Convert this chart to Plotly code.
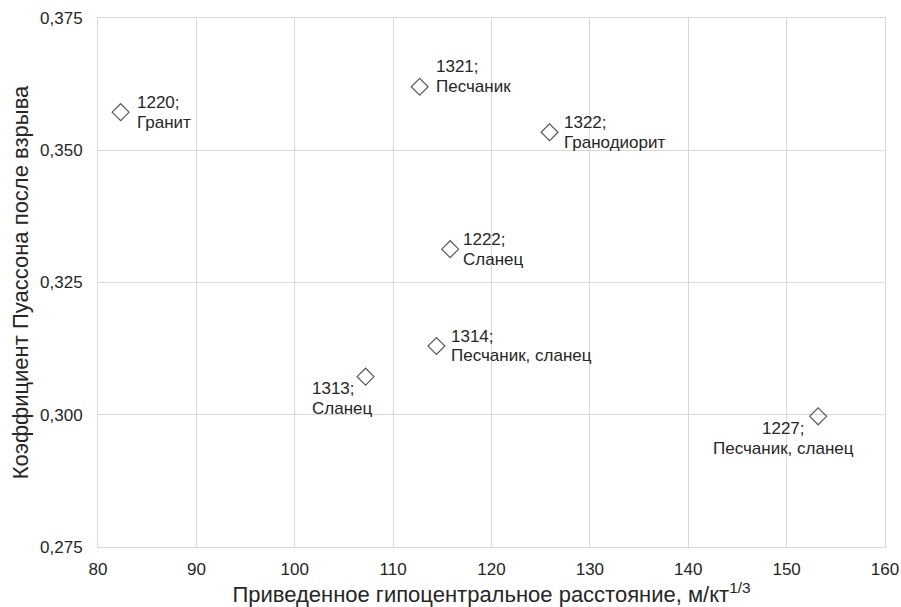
import plotly.graph_objects as go

# Data
ids = ["1220", "1321", "1322", "1222", "1314", "1313", "1227"]
rocks = ["Гранит", "Песчаник", "Гранодиорит", "Сланец", "Песчаник, сланец", "Сланец", "Песчаник, сланец"]
x_dist = [82.3, 112.7, 125.9, 115.8, 114.4, 107.2, 153.2]
y_poisson = [0.3572, 0.3620, 0.3534, 0.3313, 0.3130, 0.3072, 0.2997]
x_ticks = [80, 90, 100, 110, 120, 130, 140, 150, 160]
y_ticks = [0.275, 0.300, 0.325, 0.350, 0.375]

# label placement (style only): anchor, dx of text edge/center, dy of first line (px, down positive)
label_style = [
    ("left", 16.5, -9.5),
    ("left", 16.5, -20),
    ("left", 14.5, -9.5),
    ("left", 13.5, -9.5),
    ("left", 15, -9.5),
    ("left", -53, 12),
    ("center", -35, 12.5),
]
LINE_PITCH = 19.5

FONT = "Liberation Sans, Arial, sans-serif"
TXT = "#262626"

fig = go.Figure()
fig.add_trace(go.Scatter(
    x=x_dist, y=y_poisson, mode="markers",
    marker=dict(symbol="diamond-open", size=13, color="#5a5a5a", line=dict(width=1.2)),
    showlegend=False, hoverinfo="skip",
))

font_lbl = dict(family=FONT, size=17, color=TXT)
for i, (xv, yv) in enumerate(zip(x_dist, y_poisson)):
    anchor, dx, dy1 = label_style[i]
    xs = dx - 2.5 if anchor == "left" else dx
    for j, line in enumerate([f"{ids[i]};", rocks[i]]):
        dy = dy1 + j * LINE_PITCH
        fig.add_annotation(x=xv, y=yv, text=line, showarrow=False, font=font_lbl,
                           xanchor=anchor, yanchor="middle", xshift=xs, yshift=-dy)

grid_c = "#d9d9d9"
fig.update_layout(
    width=901, height=607,
    margin=dict(l=98, r=16, t=18, b=60, autoexpand=False),
    paper_bgcolor="white", plot_bgcolor="white",
    separators=", ",
    font=dict(family=FONT, color=TXT),
    xaxis=dict(
        range=[80, 160], tickvals=x_ticks, showgrid=True, gridcolor=grid_c, gridwidth=1,
        showline=True, linecolor=grid_c, mirror=True, zeroline=False, automargin=False,
        tickfont=dict(size=17, color=TXT), ticks="", ticklabelstandoff=7,
        title=dict(text="Приведенное гипоцентральное расстояние, м/кт<sup>1/3</sup>",
                   font=dict(size=22, color=TXT), standoff=1),
    ),
    yaxis=dict(
        range=[0.275, 0.375], tickvals=y_ticks, tickformat=".3f",
        showgrid=True, gridcolor=grid_c, gridwidth=1,
        showline=True, linecolor=grid_c, mirror=True, zeroline=False, automargin=False,
        tickfont=dict(size=17, color=TXT), ticks="", ticklabelstandoff=11,
        title=dict(text="Коэффициент Пуассона после взрыва",
                   font=dict(size=22, color=TXT), standoff=5),
    ),
)

fig.write_html(
    "out.html",
    config={"displayModeBar": False, "staticPlot": True},
    post_script="document.body.style.margin='0';document.body.style.overflow='hidden';",
)
